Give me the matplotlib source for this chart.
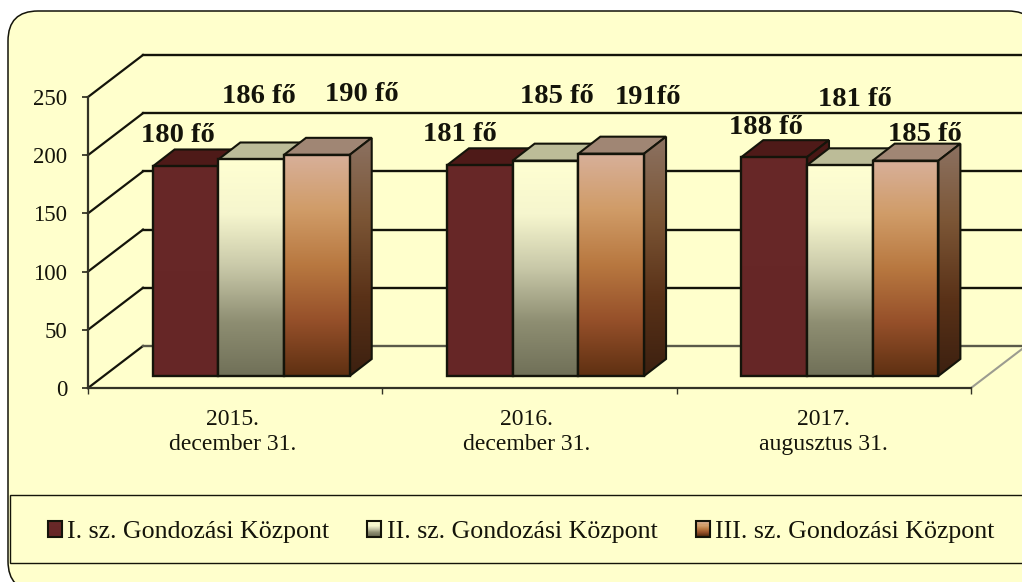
import matplotlib
matplotlib.use('Agg')
import matplotlib.pyplot as plt
import numpy as np
from matplotlib.colors import LinearSegmentedColormap
from matplotlib.legend_handler import HandlerBase
from matplotlib.patches import FancyBboxPatch, Patch, Polygon, Rectangle

plt.rcParams['font.family'] = ['Liberation Serif', 'DejaVu Serif']

categories = ['2015.\ndecember 31.', '2016.\ndecember 31.', '2017.\naugusztus 31.']
series_names = ['I. sz. Gondozási Központ', 'II. sz. Gondozási Központ', 'III. sz. Gondozási Központ']
values_1 = [180, 181, 188]
values_2 = [186, 185, 181]
values_3 = [190, 191, 185]
labels_1 = ['180 fő', '181 fő', '188 fő']
labels_2 = ['186 fő', '185 fő', '181 fő']
labels_3 = ['190 fő', '191fő', '185 fő']
y_ticks = [0, 50, 100, 150, 200, 250]

INK = '#14140a'
BG = '#ffffcc'
W, H = 1022, 582

# colours of the faces, top of the bar first
front_cmaps = [
    LinearSegmentedColormap.from_list('f1', ['#682828', '#662626']),
    LinearSegmentedColormap.from_list('f2', ['#ffffd2', '#f6f6ce', '#c8c8a8', '#8e8e72', '#707058']),
    LinearSegmentedColormap.from_list('f3', ['#d8b09a', '#d09c68', '#b87840', '#96502a', '#5e3012']),
]
side_cmaps = [
    LinearSegmentedColormap.from_list('s1', ['#4a1816', '#3a1210']),
    LinearSegmentedColormap.from_list('s2', ['#a0a088', '#4c4c3c']),
    LinearSegmentedColormap.from_list('s3', ['#8c7262', '#7c5636', '#5a3218', '#3c2010']),
]
top_colors = ['#4e1a18', '#bcbc98', '#a08674']

fig = plt.figure(figsize=(W / 100, H / 100), dpi=100, facecolor='white')

# background panel, in pixels
bg = fig.add_axes([0, 0, 1, 1], zorder=0)
bg.set_xlim(0, W)
bg.set_ylim(H, 0)
bg.axis('off')
bg.add_patch(FancyBboxPatch((38, 41), 970, 520, boxstyle='round,pad=30,rounding_size=30',
                            fc=BG, ec=INK, lw=1.1))
bg.add_patch(Rectangle((10, 495), 1040, 68, fc=BG, ec=INK, lw=1.0))

# chart axes: front plane of the 3d box
left, right, bottom, top = 88, 971, 388, 97
ax = fig.add_axes([left / W, 1 - bottom / H, (right - left) / W, (bottom - top) / H], zorder=1)
ax.patch.set_visible(False)
ax.set_xlim(0, 3)
ax.set_ylim(0, 250)
px_x = 3 / (right - left)
px_y = 250 / (bottom - top)

depth_x, depth_y = 55 * px_x, 42 * px_y

for v in y_ticks:
    col = '#5a5a4a' if v == 0 else INK
    ax.plot([0, depth_x], [v, v + depth_y], color=INK, lw=1.6, clip_on=False, zorder=1)
    ax.plot([depth_x, 3 + depth_x], [v + depth_y, v + depth_y], color=col, lw=1.7, clip_on=False, zorder=1)
ax.plot([3, 3 + depth_x], [0, depth_y], color='#9c9c90', lw=1.5, clip_on=False, zorder=1)

for s in ['top', 'right']:
    ax.spines[s].set_visible(False)
for s in ['left', 'bottom']:
    ax.spines[s].set_color('#333326')
    ax.spines[s].set_linewidth(1.6)

ax.set_yticks(y_ticks)
ax.tick_params(axis='y', length=4.5, width=1.1, color=INK, labelsize=16.5, labelcolor=INK, pad=10.5)
ax.set_xticks([0, 1, 2, 3])
ax.set_xticklabels([])
ax.tick_params(axis='x', which='major', length=4.5, width=1.0, color='#333326')
ax.set_xticks([0.49, 1.49, 2.5], minor=True)
ax.set_xticklabels(categories, minor=True, fontsize=17, color=INK, linespacing=1.28)
ax.tick_params(axis='x', which='minor', length=0, pad=15)

bar_w = 65.7 * px_x
base = 12 * px_y
shift = 16 * px_x
side_x, side_y = 22 * px_x, 17 * px_y
grad = np.linspace(0, 1, 256).reshape(-1, 1)


def draw_bar(x0, value, n, z):
    y1 = base + value
    x1 = x0 + bar_w
    # top face
    ax.add_patch(Polygon([(x0, y1), (x0 + side_x, y1 + side_y), (x1 + side_x, y1 + side_y), (x1, y1)],
                         fc=top_colors[n], ec=INK, lw=1.5, zorder=z, clip_on=False))
    # side face
    side = Polygon([(x1, base), (x1 + side_x, base + side_y), (x1 + side_x, y1 + side_y), (x1, y1)],
                   fc='none', ec=INK, lw=1.5, zorder=z + 0.2, clip_on=False)
    im = ax.imshow(grad, cmap=side_cmaps[n], extent=[x1, x1 + side_x, base, y1 + side_y], aspect='auto',
                   zorder=z + 0.1, origin='upper', clip_on=True)
    ax.add_patch(side)
    clip = Polygon(side.get_xy(), transform=ax.transData)
    im.set_clip_path(clip)
    # front face
    ax.imshow(grad, cmap=front_cmaps[n], extent=[x0, x1, base, y1], aspect='auto', zorder=z + 0.3, origin='upper')
    ax.add_patch(Rectangle((x0, base), bar_w, value, fc='none', ec=INK, lw=1.7, zorder=z + 0.4, clip_on=False))


series = [values_1, values_2, values_3]
texts = [labels_1, labels_2, labels_3]
# label offsets from the middle of the bar top, pixels
label_off = [
    [(-8, 31), (8, 63), (45, 60)],
    [(-20, 31), (11, 64), (37, 56)],
    [(-8, 30), (15, 66), (19, 26)],
]
for i in range(3):
    start = i + 0.5 + shift - 1.5 * bar_w
    for n in range(3):
        x0 = start + n * bar_w
        draw_bar(x0, series[n][i], n, 3 + n)
        ax.annotate(texts[n][i], xy=(x0 + bar_w / 2, base + series[n][i]),
                    xytext=(label_off[i][n][0] * 0.72, label_off[i][n][1] * 0.72), textcoords='offset points',
                    ha='center', va='center', fontsize=20.5, fontweight='bold', color=INK,
                    annotation_clip=False, zorder=10)

ax.set_xlim(0, 3)
ax.set_ylim(0, 250)


class GradientSwatch(HandlerBase):
    def __init__(self, cmap):
        super().__init__()
        self.cmap = cmap

    def create_artists(self, legend, orig_handle, xdescent, ydescent, width, height, fontsize, trans):
        parts = []
        steps = 14
        for k in range(steps):
            c = self.cmap(k / (steps - 1))
            parts.append(Rectangle((-xdescent, -ydescent + height * (1 - (k + 1) / steps)), width, height / steps,
                                   fc=c, ec='none', transform=trans))
        parts.append(Rectangle((-xdescent, -ydescent), width, height, fc='none', ec=INK, lw=1.5, transform=trans))
        return parts


handles = [Patch(label=name) for name in series_names]
bg.legend(handles=handles, ncol=3, loc='center left', bbox_to_anchor=(48 / W, 1 - 532 / H),
          bbox_transform=fig.transFigure, frameon=False, fontsize=18.6, labelcolor=INK,
          handlelength=0.54, handleheight=0.54, handletextpad=0.2, columnspacing=1.48,
          borderaxespad=0, borderpad=0,
          handler_map={h: GradientSwatch(c) for h, c in zip(handles, front_cmaps)})

fig.savefig('out.png', dpi=100, facecolor='white')
